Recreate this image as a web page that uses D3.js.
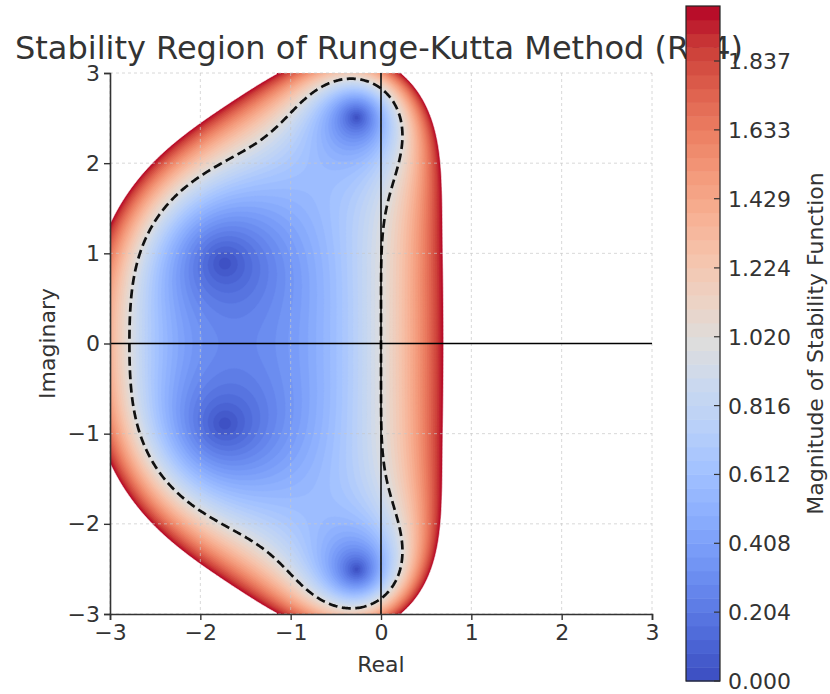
<!DOCTYPE html>
<html>
<head>
<meta charset="utf-8">
<script src="https://cdn.jsdelivr.net/npm/d3@7"></script>
<style>
  body { margin: 0; background: #fff; }
  svg { display: block; font-family: "DejaVu Sans", sans-serif; }
</style>
</head>
<body>
<div id="chart"></div>
<script>
// RK4 stability function R(z) = sum coeffs[k] * z^k
const coeffs = [1, 1, 1 / 2, 1 / 6, 1 / 24]
const realRange = [-3, 3]
const imagRange = [-3, 3]
const levelRange = [0, 2]
const levelCount = 50
const stableLevel = 1
const xTicks = [-3, -2, -1, 0, 1, 2, 3]
const yTicks = [-3, -2, -1, 0, 1, 2, 3]
const cbTicks = [0, 0.204, 0.408, 0.612, 0.816, 1.020, 1.224, 1.429, 1.633, 1.837]

// matplotlib coolwarm anchors
const coolwarm = ['#3b4cc0', '#4d68d7', '#6282ea', '#779af7', '#8db0fe', '#a3c2ff', '#b8d0f9', '#cad8ef',
  '#dddddd', '#ecd3c5', '#f5c4ad', '#f7b194', '#f49a7b', '#ec7f63', '#de604d', '#cb3e38', '#b40426']

const W = 830, H = 694
const margin = { left: 110, right: 652, top: 73, bottom: 614 }
const ink = '#333'
const fs = '22px'

const levels = d3.range(levelCount).map(i => levelRange[0] + i * (levelRange[1] - levelRange[0]) / (levelCount - 1))
const cmap = d3.scaleLinear()
  .domain(coolwarm.map((c, i) => levelRange[0] + i * (levelRange[1] - levelRange[0]) / (coolwarm.length - 1)))
  .range(coolwarm)
  .interpolate(d3.interpolateRgb)
const bandColor = i => cmap((levels[i] + levels[i + 1]) / 2)

const x = d3.scaleLinear().domain(realRange).range([margin.left, margin.right])
const y = d3.scaleLinear().domain(imagRange).range([margin.bottom, margin.top])

// sample |R(z)| on a grid
const n = 400
const gx = c => realRange[0] + c * (realRange[1] - realRange[0]) / n
const gy = c => imagRange[1] - c * (imagRange[1] - imagRange[0]) / n
const mag = new Float64Array(n * n)
for (let j = 0; j < n; j++) {
  const b = gy(j + 0.5)
  for (let i = 0; i < n; i++) {
    const a = gx(i + 0.5)
    let re = 0, im = 0
    for (let k = coeffs.length - 1; k >= 0; k--) {
      const r2 = re * a - im * b + coeffs[k]
      im = re * b + im * a
      re = r2
    }
    mag[j * n + i] = Math.hypot(re, im)
  }
}

const svg = d3.select('#chart').append('svg').attr('width', W).attr('height', H)

svg.append('text').attr('x', 379).attr('y', 59)
  .attr('text-anchor', 'middle').attr('fill', ink).style('font-size', '32px')
  .text('Stability Region of Runge-Kutta Method (RK4)')

svg.append('clipPath').attr('id', 'plot').append('rect')
  .attr('x', margin.left).attr('y', margin.top)
  .attr('width', margin.right - margin.left).attr('height', margin.bottom - margin.top)

const path = d3.geoPath(d3.geoTransform({
  point(px, py) { this.stream.point(x(gx(px)), y(gy(py))) }
}))

const field = svg.append('g').attr('clip-path', 'url(#plot)')
const contours = d3.contours().size([n, n]).thresholds(levels)(Array.from(mag))
contours.forEach((c, i) => {
  const col = i < levelCount - 1 ? bandColor(i) : '#fff'
  field.append('path').attr('d', path(c)).attr('fill', col).attr('stroke', col).attr('stroke-width', 0.6)
})

// grid
const grid = svg.append('g').attr('stroke', '#c8c8c8').attr('stroke-opacity', 0.7)
  .attr('stroke-dasharray', '3,3').attr('stroke-width', 1)
xTicks.forEach(t => grid.append('line').attr('x1', x(t)).attr('x2', x(t)).attr('y1', margin.top).attr('y2', margin.bottom))
yTicks.forEach(t => grid.append('line').attr('y1', y(t)).attr('y2', y(t)).attr('x1', margin.left).attr('x2', margin.right))

// |R| = 1 boundary, dashed
const neg = Array.from(mag, v => -v)
const unit = d3.contours().size([n, n]).thresholds([-stableLevel])(neg)[0]
svg.append('path').attr('d', path(unit)).attr('clip-path', 'url(#plot)')
  .attr('fill', 'none').attr('stroke', '#111').attr('stroke-width', 2.7).attr('stroke-dasharray', '9,4.5')

// real / imaginary axes
svg.append('line').attr('x1', margin.left).attr('x2', margin.right).attr('y1', y(0)).attr('y2', y(0))
  .attr('stroke', '#000').attr('stroke-width', 1.5)
svg.append('line').attr('x1', x(0)).attr('x2', x(0)).attr('y1', margin.top).attr('y2', margin.bottom)
  .attr('stroke', '#000').attr('stroke-width', 1.5)

const fmt = d => d < 0 ? '\u2212' + Math.abs(d) : String(d)
const xAxis = svg.append('g').attr('transform', `translate(0,${margin.bottom})`)
  .call(d3.axisBottom(x).tickValues(xTicks).tickFormat(fmt).tickSizeOuter(0).tickSize(6).tickPadding(4))
const yAxis = svg.append('g').attr('transform', `translate(${margin.left},0)`)
  .call(d3.axisLeft(y).tickValues(yTicks).tickFormat(fmt).tickSizeOuter(0).tickSize(6).tickPadding(4))
;[xAxis, yAxis].forEach(a => {
  a.select('.domain').attr('stroke', ink).attr('stroke-width', 1.6)
  a.selectAll('.tick line').attr('stroke', ink).attr('stroke-width', 1.4)
  a.selectAll('.tick text').attr('fill', ink).style('font-size', fs).style('font-family', '"DejaVu Sans"')
})

svg.append('text').attr('x', (margin.left + margin.right) / 2).attr('y', 672)
  .attr('text-anchor', 'middle').attr('fill', ink).style('font-size', fs).text('Real')
svg.append('text').attr('transform', `translate(55,${(margin.top + margin.bottom) / 2}) rotate(-90)`)
  .attr('text-anchor', 'middle').attr('fill', ink).style('font-size', fs).text('Imaginary')

// colorbar
const cb = { x: 686, w: 34, top: 6, bottom: 681 }
const cy = d3.scaleLinear().domain(levelRange).range([cb.bottom, cb.top])
const bar = svg.append('g')
d3.range(levelCount - 1).forEach(i => {
  bar.append('rect').attr('x', cb.x).attr('width', cb.w)
    .attr('y', cy(levels[i + 1])).attr('height', cy(levels[i]) - cy(levels[i + 1]) + 0.5)
    .attr('fill', bandColor(i))
})
bar.append('rect').attr('x', cb.x).attr('y', cb.top).attr('width', cb.w).attr('height', cb.bottom - cb.top)
  .attr('fill', 'none').attr('stroke', '#222').attr('stroke-width', 1.2)
cbTicks.forEach(t => {
  bar.append('line').attr('x1', cb.x + cb.w - 6).attr('x2', cb.x + cb.w).attr('y1', cy(t)).attr('y2', cy(t))
    .attr('stroke', ink).attr('stroke-width', 1.2)
  bar.append('text').attr('x', cb.x + cb.w + 8).attr('y', cy(t)).attr('dy', '0.36em')
    .attr('fill', ink).style('font-size', fs).text(t.toFixed(3))
})
svg.append('text').attr('transform', `translate(823,${(cb.top + cb.bottom) / 2}) rotate(-90)`)
  .attr('text-anchor', 'middle').attr('fill', ink).style('font-size', fs).text('Magnitude of Stability Function')
</script>
</body>
</html>
